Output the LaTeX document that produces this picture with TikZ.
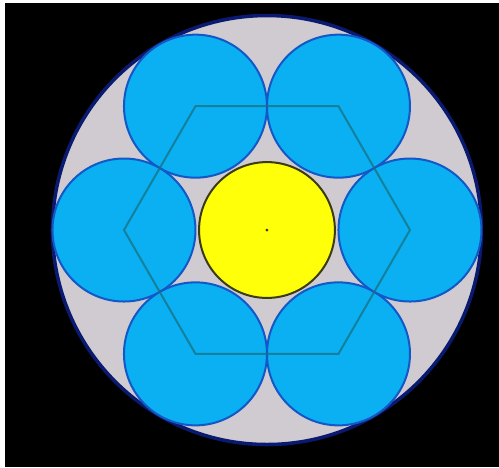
\documentclass[tikz,border=0pt]{standalone}
\usepackage{xcolor}
\usepackage{tikz}
\usetikzlibrary{calc}
\definecolor{wireblue}{HTML}{0AB0F2}
\definecolor{strandedge}{HTML}{1458C8}
\definecolor{coreyellow}{HTML}{FFFF0A}
\definecolor{coreedge}{HTML}{3C3C14}
\definecolor{jacketgray}{HTML}{CFCBD0}
\definecolor{jacketedge}{HTML}{0A1A70}
\definecolor{layline}{HTML}{1A7080}
\tikzset{
  jacket/.style={circle,draw=jacketedge,line width=1.4pt,fill=jacketgray,
                 minimum size=6cm,inner sep=0pt},
  strand/.style={circle,draw=strandedge,line width=0.8pt,fill=wireblue,
                 minimum size=2cm,inner sep=0pt},
  core/.style={circle,draw=coreedge,line width=0.8pt,fill=coreyellow,
               minimum size=1.9cm,inner sep=0pt},
  lay/.style={draw=layline,line width=0.8pt,opacity=0.75}
}
\begin{document}
\begin{tikzpicture}
  \useasboundingbox (-3.734,-3.315) rectangle (3.245,3.217);
  \fill[black] (-3.664,-3.315) rectangle (3.245,3.175);
  \node[jacket] (jk) at (0,0) {};
  \foreach \i in {1,...,6}{\node[strand] (s\i) at ({60*\i}:2) {};}
  \node[core] (core) at (0,0) {};
  \draw[lay] (s1.center) -- (s2.center) -- (s3.center) -- (s4.center)
    -- (s5.center) -- (s6.center) -- cycle;
  \fill[coreedge] (core.center) circle (0.6pt);
\end{tikzpicture}
\end{document}
